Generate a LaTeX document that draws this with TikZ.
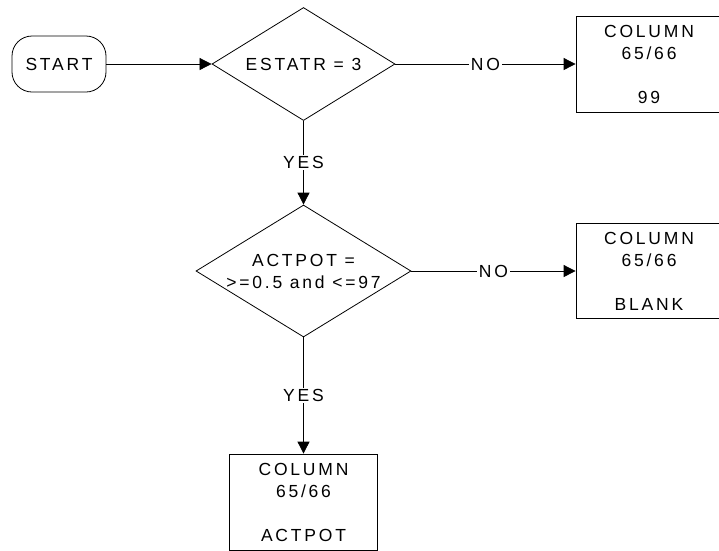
\documentclass[tikz,border=0pt]{standalone}
\usepackage{fontspec}
\setmainfont{Liberation Sans}
\usetikzlibrary{shapes.geometric,arrows.meta}

\begin{document}
\begin{tikzpicture}[x=1pt,y=-1pt,line width=0.8pt,
		every node/.style={font=\fontsize{17.5}{22}\selectfont\addfontfeature{LetterSpace=16}},
		startbox/.style={draw,rounded corners=20pt,minimum width=94pt,minimum height=56pt},
		decision/.style={draw,diamond,inner sep=0pt,align=center},
		colbox/.style={draw,rectangle,inner sep=0pt,align=center,minimum width=146pt,minimum height=96pt},
		link/.style={-{Triangle[length=12pt,width=12pt]}},
		answer/.style={fill=white,inner sep=1.5pt}]
		\path[use as bounding box] (0,0) rectangle (719,550);
		\clip (0,0) rectangle (719,550);
		% shapes
		\node[startbox] (start) at (59,64) {START};
		\node[decision,shape aspect=1.62,minimum width=183pt,minimum height=113pt] (estatr) at (303.5,64) {ESTATR = 3};
		\node[decision,shape aspect=1.63,minimum width=215pt,minimum height=132pt] (actpot) at (303.5,271) {ACTPOT =\\>=0.5 and <=97};
		\node[colbox] (col99) at (649,64) {COLUMN\\65/66\\[22pt]99};
		\node[colbox,minimum height=95pt] (colblank) at (649,271) {COLUMN\\65/66\\[22pt]BLANK};
		\node[colbox,minimum width=148pt] (colact) at (303.5,502) {COLUMN\\65/66\\[22pt]ACTPOT};
		% connectors
		\draw[link] (start) -- (estatr);
		\draw[link] (estatr) -- node[answer] {NO} (col99);
		\draw[link] (estatr) -- node[answer] {YES} (actpot);
		\draw[link] (actpot) -- node[answer] {NO} (colblank);
		\draw[link] (actpot) -- node[answer] {YES} (colact);
	\end{tikzpicture}
\end{document}
